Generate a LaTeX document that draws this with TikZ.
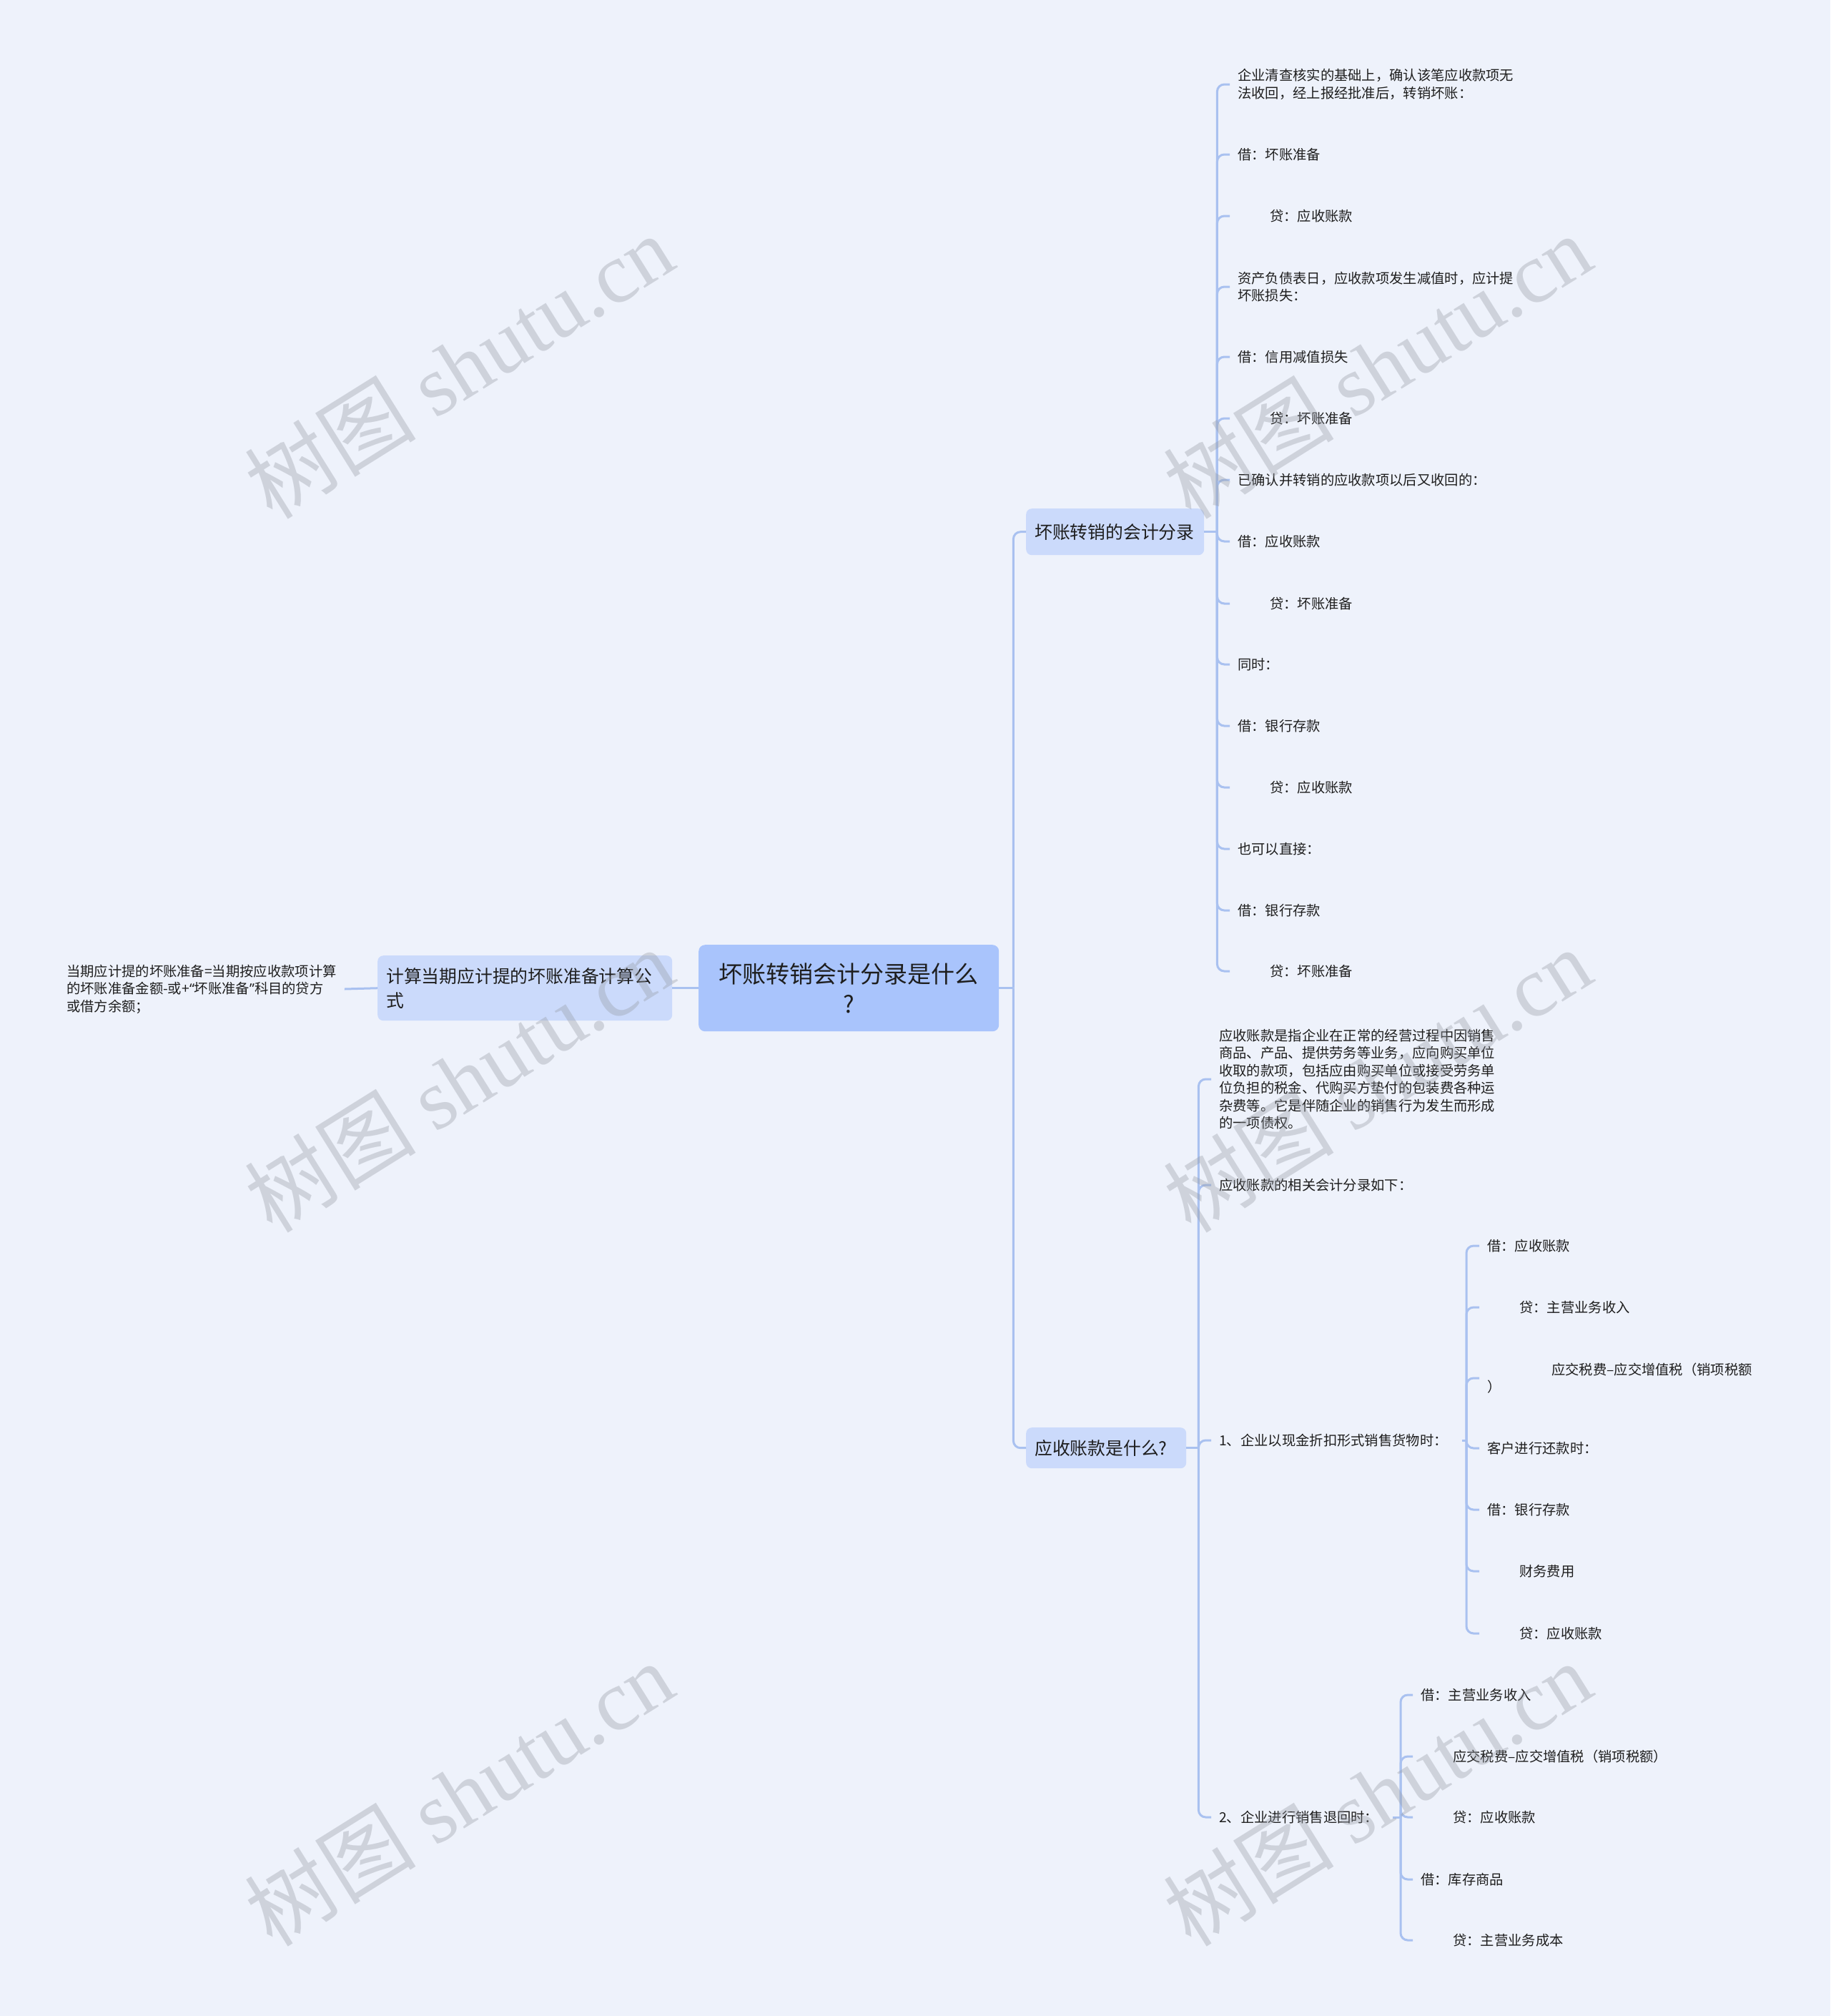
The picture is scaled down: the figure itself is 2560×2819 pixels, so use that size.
\documentclass[tikz,border=0pt]{standalone}
\usepackage{fontspec}
\setmainfont{Noto Sans CJK SC}
\newfontfamily\wmserif{Liberation Serif}
\newfontfamily\latinsans{Noto Sans}
\usetikzlibrary{calc}
\definecolor{bgc}{RGB}{238,242,251}
\definecolor{rootc}{RGB}{169,196,252}
\definecolor{lonec}{RGB}{203,218,251}
\definecolor{linec}{RGB}{169,193,240}
\definecolor{txtc}{RGB}{30,30,30}
\definecolor{wmc}{RGB}{150,155,165}
\newcommand{\ind}{\hspace*{45pt}}
\newcommand{\fcolon}{\symbol{"FF1A}}
\newcommand{\fcomma}{\symbol{"FF0C}}
\newcommand{\fsemi}{\symbol{"FF1B}}
\newcommand{\flp}{\symbol{"FF08}}
\newcommand{\frp}{\symbol{"FF09}}
\begin{document}
\begin{tikzpicture}[x=1pt,y=-1pt,
  rootbox/.style={fill=rootc, rounded corners=9pt, anchor=north west, inner xsep=14pt, inner ysep=0pt,
    align=center, font=\fontsize{33}{42}\selectfont, text=txtc},
  onebox/.style={fill=lonec, rounded corners=8pt, anchor=north west, inner xsep=12pt, inner ysep=0pt,
    align=left, font=\fontsize{24.8}{34}\selectfont, text=txtc},
  leaf/.style={anchor=west, inner xsep=11pt, inner ysep=3pt, align=left,
    font=\fontsize{19.3}{24.5}\selectfont, text=txtc},
  conn/.style={draw=linec, line width=3pt, rounded corners=10pt},
  wm/.style={rotate=32, text=wmc, text opacity=0.36, font=\fontsize{120}{120}\selectfont, inner sep=0pt}
]
\fill[bgc] (0,0) rectangle (2560,2819);
\useasboundingbox (0,0) rectangle (2560,2819);

% main nodes
\node[rootbox, text width=392pt, minimum height=121pt] (root) at (977,1321) {坏账转销会计分录是什么\\?};
\node[onebox, text width=388pt, minimum height=91pt] (calc) at (528,1336) {计算当期应计提的坏账准备计算公\\式};
\node[onebox, text width=225pt, minimum height=65pt] (hz) at (1435,711) {坏账转销的会计分录};
\node[onebox, text width=200pt, minimum height=57pt] (yszk) at (1435,1996) {应收账款是什么?};

% left leaf
\node[leaf] (L1) at (82,1383) {当期应计提的坏账准备=当期按应收款项计算\\的坏账准备金额-或+{\latinsans “}坏账准备{\latinsans ”}科目的贷方\\或借方余额\fsemi};

% group A
\node[leaf] (A1) at (1720,118) {企业清查核实的基础上\fcomma 确认该笔应收款项无\\法收回\fcomma 经上报经批准后\fcomma 转销坏账\fcolon};
\node[leaf] (A2) at (1720,216) {借\fcolon 坏账准备};
\node[leaf] (A3) at (1720,302) {\ind 贷\fcolon 应收账款};
\node[leaf] (A4) at (1720,401) {资产负债表日\fcomma 应收款项发生减值时\fcomma 应计提\\坏账损失\fcolon};
\node[leaf] (A5) at (1720,499) {借\fcolon 信用减值损失};
\node[leaf] (A6) at (1720,585) {\ind 贷\fcolon 坏账准备};
\node[leaf] (A7) at (1720,671) {已确认并转销的应收款项以后又收回的\fcolon};
\node[leaf] (A8) at (1720,757) {借\fcolon 应收账款};
\node[leaf] (A9) at (1720,844) {\ind 贷\fcolon 坏账准备};
\node[leaf] (A10) at (1720,929) {同时\fcolon};
\node[leaf] (A11) at (1720,1015) {借\fcolon 银行存款};
\node[leaf] (A12) at (1720,1101) {\ind 贷\fcolon 应收账款};
\node[leaf] (A13) at (1720,1187) {也可以直接\fcolon};
\node[leaf] (A14) at (1720,1273) {借\fcolon 银行存款};
\node[leaf] (A15) at (1720,1358) {\ind 贷\fcolon 坏账准备};

% group B
\node[leaf] (B1) at (1694,1509) {应收账款是指企业在正常的经营过程中因销售\\商品、产品、提供劳务等业务\fcomma 应向购买单位\\收取的款项\fcomma 包括应由购买单位或接受劳务单\\位负担的税金、代购买方垫付的包装费各种运\\杂费等。它是伴随企业的销售行为发生而形成\\的一项债权。};
\node[leaf] (B2) at (1694,1657) {应收账款的相关会计分录如下\fcolon};
\node[leaf] (B3) at (1694,2014) {1、企业以现金折扣形式销售货物时\fcolon};
\node[leaf] (B4) at (1694,2541) {2、企业进行销售退回时\fcolon};

% sub group C
\node[leaf] (C1) at (2069,1742) {借\fcolon 应收账款};
\node[leaf] (C2) at (2069,1828) {\ind 贷\fcolon 主营业务收入};
\node[leaf] (C3) at (2069,1927) {\hspace*{90pt}应交税费–应交增值税\flp 销项税额\\\frp};
\node[leaf] (C4) at (2069,2025) {客户进行还款时\fcolon};
\node[leaf] (C5) at (2069,2111) {借\fcolon 银行存款};
\node[leaf] (C6) at (2069,2197) {\ind 财务费用};
\node[leaf] (C7) at (2069,2284) {\ind 贷\fcolon 应收账款};

% sub group D
\node[leaf] (D1) at (1976,2370) {借\fcolon 主营业务收入};
\node[leaf] (D2) at (1976,2456) {\ind 应交税费–应交增值税\flp 销项税额\frp};
\node[leaf] (D3) at (1976,2541) {\ind 贷\fcolon 应收账款};
\node[leaf] (D4) at (1976,2628) {借\fcolon 库存商品};
\node[leaf] (D5) at (1976,2713) {\ind 贷\fcolon 主营业务成本};

% connectors
\draw[conn] (root.west) -- (calc.east);
\draw[conn] (calc.west) -- (L1.east);
\coordinate (jR) at ($(root.east)+(20,0)$);
\draw[conn] (root.east) -- (jR);
\draw[conn] (jR) |- (hz.west);
\draw[conn] (jR) |- (yszk.west);

\coordinate (jA) at ($(hz.east)+(18,0)$);
\draw[conn] (hz.east) -- (jA);
\foreach \i in {1,...,15} { \draw[conn] (jA) |- (A\i.west); }

\coordinate (jB) at ($(yszk.east)+(17,0)$);
\draw[conn] (yszk.east) -- (jB);
\foreach \i in {1,...,4} { \draw[conn] (jB) |- (B\i.west); }

\coordinate (jC) at (2051,2014);
\draw[conn] ($(B3.east)+(9,0)$) -- (jC);
\foreach \i in {1,...,7} { \draw[conn] (jC) |- (C\i.west); }

\coordinate (jD) at (1959,2541);
\draw[conn] ($(B4.east)+(9,0)$) -- (jD);
\foreach \i in {1,...,5} { \draw[conn] (jD) |- (D\i.west); }

% watermarks
\foreach \wx/\wy [count=\k] in {642/512, 1926/512, 642/1510, 1926/1510, 642/2508, 1926/2508} {
  \node[wm] (wm\k) at (\wx,\wy) {树图 {\wmserif shutu.cn}};
}
\end{tikzpicture}
\end{document}
